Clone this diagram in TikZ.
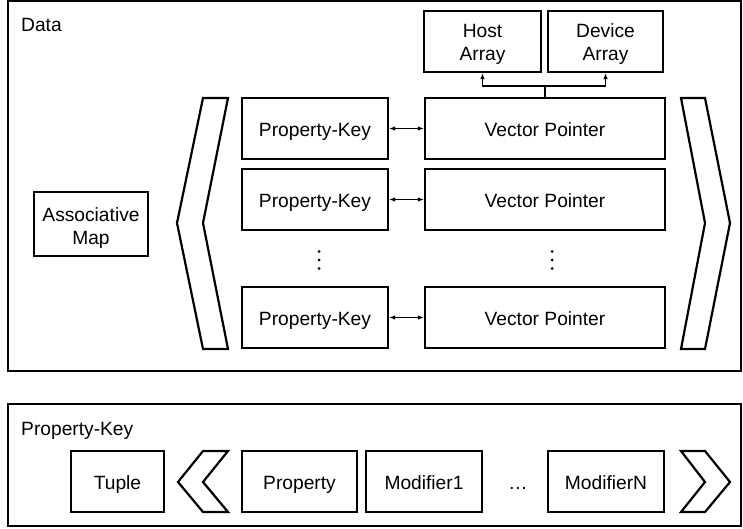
\documentclass[tikz,border=0pt]{standalone}
\usepackage{fontspec}
\setmainfont{Liberation Sans}
\usetikzlibrary{arrows.meta}

\begin{document}
\begin{tikzpicture}[x=1pt, y=-1pt,
    font=\fontsize{19.2pt}{23pt}\selectfont,
    frame/.style={draw, line width=2.2pt, inner sep=0pt},
    box/.style={draw, line width=2.2pt, inner sep=0pt, text height=16pt, text depth=0pt},
    twoline/.style={draw, line width=2.2pt, inner sep=0pt, align=center},
    chev/.style={draw, line width=2.2pt, line join=miter},
    link/.style={line width=1.1pt, {Latex[length=6pt,width=4.5pt]}-{Latex[length=6pt,width=4.5pt]}},
    feed/.style={line width=1.1pt, -{Latex[length=6pt,width=4.5pt]}},
    dot/.style={circle, fill, inner sep=0pt, minimum size=3pt}]
  \useasboundingbox (0,0) rectangle (743,529);

  % outer frames
  \node[frame, minimum width=733pt, minimum height=370pt] (data) at (374.5,186) {};
  \node[frame, minimum width=733pt, minimum height=122pt] (pkframe) at (374.5,465) {};
  \node[anchor=base west, inner sep=0pt] (datalbl) at (21,32) {Data};
  \node[anchor=base west, inner sep=0pt] (pklbl) at (21,435) {Property-Key};

  % storage arrays
  \node[twoline, minimum width=117pt, minimum height=61pt] (host) at (482.5,41.5) {\rule{0pt}{22pt}Host\\\strut Array};
  \node[twoline, minimum width=115pt, minimum height=61pt] (device) at (605.5,41.5) {\rule{0pt}{22pt}Device\\\strut Array};

  % associative map
  \node[twoline, minimum width=114pt, minimum height=64pt] (assoc) at (91,224) {\rule{0pt}{25pt}Associative\\\strut Map};

  % key / pointer rows
  \foreach \n/\y in {1/128.5, 2/199.5, 3/317.5} {
    \node[box, minimum width=146pt, minimum height=61pt] (pk\n) at (315,\y) {Property-Key};
    \node[box, minimum width=240pt, minimum height=61pt] (vp\n) at (545,\y) {Vector Pointer};
    \draw[link] (pk\n) -- (vp\n);
  }

  % vertical ellipses between rows
  \foreach \yy in {251.5,260,268.5} {
    \node[dot] at (319,\yy) {};
    \node[dot] at (552,\yy) {};
  }

  % pointer to host and device arrays
  \coordinate (bus) at (545,86);
  \draw[line width=1.1pt] (vp1.north) -- (bus);
  \draw[feed] (bus) -| (host.south);
  \draw[feed] (bus) -| (device.south);

  % brackets around the map entries
  \draw[chev] (203,98) -- (228,98) -- (203,223) -- (228,349) -- (203,349) -- (177,223) -- cycle;
  \draw[chev] (681,98) -- (705,98) -- (730,223) -- (705,349) -- (681,349) -- (705,223) -- cycle;

  % property-key layout
  \node[box, minimum width=93pt, minimum height=61pt] (tuple) at (117.5,481.5) {Tuple};
  \node[box, minimum width=115pt, minimum height=61pt] (prop) at (299.5,481.5) {Property};
  \node[box, minimum width=116pt, minimum height=61pt] (mod1) at (424,481.5) {Modifier1};
  \node[anchor=base, inner sep=0pt] (mdots) at (518,489) {…};
  \node[box, minimum width=116pt, minimum height=61pt] (modN) at (606,481.5) {ModifierN};

  \draw[chev] (203,451) -- (228,451) -- (203,482) -- (228,512) -- (203,512) -- (178,482) -- cycle;
  \draw[chev] (681,451) -- (705,451) -- (730,482) -- (705,512) -- (681,512) -- (705,482) -- cycle;
\end{tikzpicture}
\end{document}
